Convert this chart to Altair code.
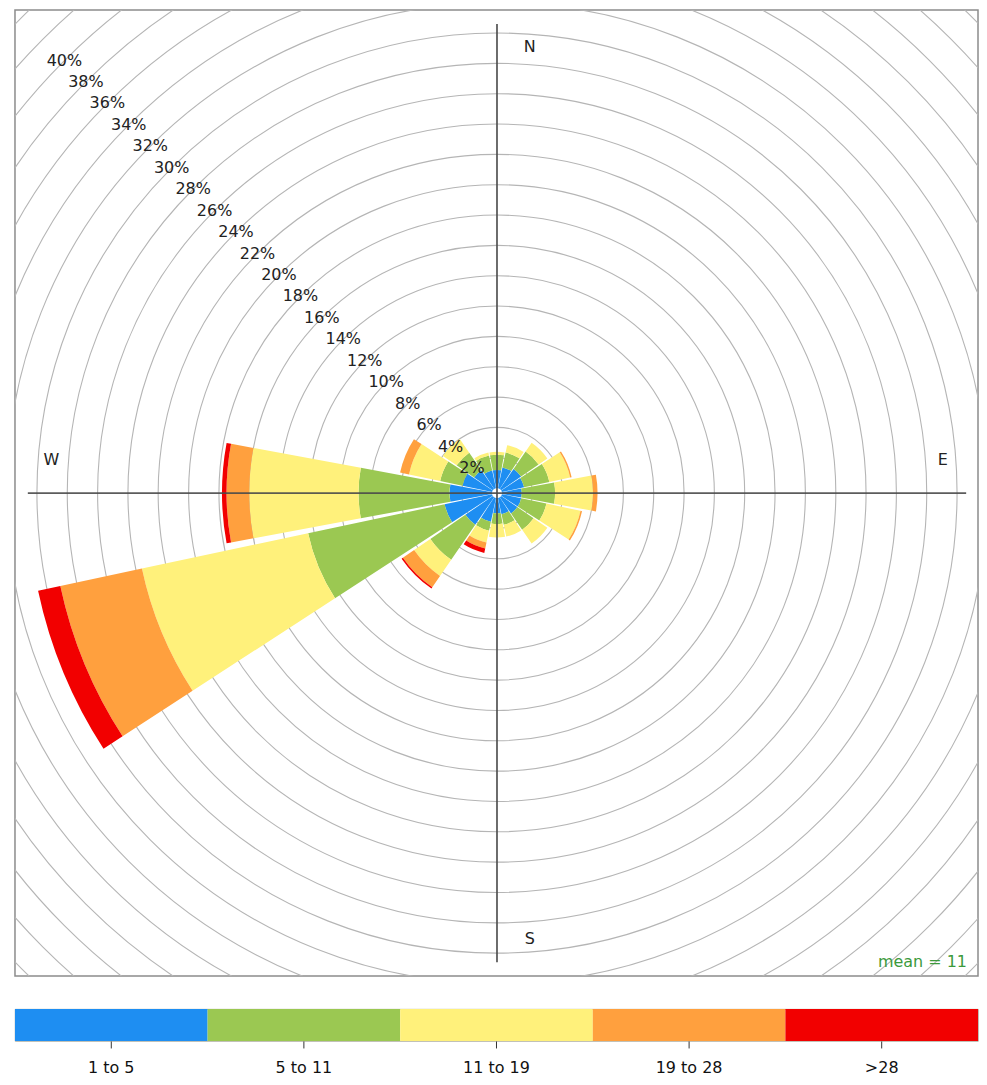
import altair as alt
import numpy as np
import pandas as pd

# ---------------- data ----------------
directions = ["N", "NNE", "NE", "ENE", "E", "ESE", "SE", "SSE",
              "S", "SSW", "SW", "WSW", "W", "WNW", "NW", "NNW"]
dir_angles = [0, 22.5, 45, 67.5, 90, 112.5, 135, 157.5,
              180, 202.5, 225, 247.5, 270, 292.5, 315, 337.5]
speed_bins = ["1 to 5", "5 to 11", "11 to 19", "19 to 28", ">28"]
bin_colors = ["#1e8ef2", "#9bc852", "#fff17b", "#ffa03e", "#f20000"]

# percentage of time in each speed band per direction
pct_1_5 = [1.2, 1.4, 1.6, 1.5, 1.3, 1.3, 1.3, 1.1, 1.0, 1.6, 2.2, 3.2, 2.8, 2.0, 1.5, 1.2]
pct_5_11 = [1.0, 1.0, 1.4, 1.7, 2.2, 1.7, 1.3, 0.7, 0.7, 0.6, 2.8, 9.2, 6.0, 1.5, 1.4, 1.0]
pct_11_19 = [0.2, 0.5, 0.7, 1.4, 2.5, 2.3, 1.1, 0.8, 0.9, 0.8, 1.3, 11.2, 7.2, 2.1, 1.1, 0.2]
pct_19_28 = [0.0, 0.0, 0.0, 0.1, 0.3, 0.1, 0.0, 0.0, 0.0, 0.4, 0.9, 5.5, 1.5, 0.6, 0.0, 0.0]
pct_gt28 = [0.0, 0.0, 0.0, 0.0, 0.0, 0.0, 0.0, 0.0, 0.0, 0.3, 0.1, 1.5, 0.3, 0.0, 0.0, 0.0]
mean_speed = 11

grid_pcts = list(range(2, 46, 2))
label_pcts = list(range(2, 42, 2))

# ---------------- layout constants ----------------
W, H = 965, 968            # plot panel size (px)
CX, CY = 483, 484          # rose centre inside the panel (px)
K = 15.2                   # px per percent
OFF = 0.33                 # centre hole (percent units)
HALF = 10.5                # half width of wedge (deg)
FONT = "DejaVu Sans"

xscale = alt.Scale(domain=[-CX / K, (W - CX) / K], range=[0, W], nice=False, zero=False)
yscale = alt.Scale(domain=[-(H - CY) / K, CY / K], range=[H, 0], nice=False, zero=False)
rscale = alt.Scale(type="linear", domain=[0, 50], range=[0, 50 * K], zero=True, nice=False)
tscale = alt.Scale(domain=[0, 360], range=[0, 2 * np.pi], nice=False, zero=False)

# ---------------- tables ----------------
bands = [pct_1_5, pct_5_11, pct_11_19, pct_19_28, pct_gt28]
rows = []
for i, (d, a) in enumerate(zip(directions, dir_angles)):
    cum = 0.0
    for b, name in enumerate(speed_bins):
        v = bands[b][i]
        if v > 0:
            rows.append(dict(dir=d, bin=name, t0=a - HALF, t1=a + HALF,
                             r0=cum + OFF, r1=cum + v + OFF))
        cum += v
wedges = pd.DataFrame(rows)
totals = [sum(b[i] for b in bands) for i in range(len(directions))]
mymax = max(totals)
R = mymax + OFF

grid = pd.DataFrame(dict(r=[p + OFF for p in grid_pcts], t0=0, t1=360))
labels = pd.DataFrame(dict(
    txt=[f"{p}%" for p in label_pcts],
    x=[-(p + OFF) * np.sin(np.pi / 4) for p in label_pcts],
    y=[(p + OFF) * np.cos(np.pi / 4) for p in label_pcts],
))
cross = pd.DataFrame(dict(x=[-R, 0], x2=[R, 0], y=[0, -R], y2=[0, R]))
compass = pd.DataFrame(dict(
    txt=["N", "E", "S", "W"],
    x=[0.07 * R, 0.95 * R, 0.07 * R, -0.95 * R],
    y=[0.95 * R, 0.07 * R, -0.95 * R, 0.07 * R],
))
meanlab = pd.DataFrame(dict(txt=[f"mean = {mean_speed}"]))

cx = alt.XDatum(0, scale=xscale, axis=None)
cy = alt.YDatum(0, scale=yscale, axis=None)

rings = alt.Chart(grid).mark_arc(filled=False, stroke="#b5b5b5", strokeWidth=1.1, clip=True).encode(
    x=cx, y=cy,
    theta=alt.Theta("t0:Q", scale=tscale, stack=None),
    theta2="t1:Q",
    radius=alt.Radius("r:Q", scale=rscale),
)

wedge_layer = alt.Chart(wedges).mark_arc(strokeWidth=0, clip=True).encode(
    x=cx, y=cy,
    theta=alt.Theta("t0:Q", scale=tscale, stack=None),
    theta2="t1:Q",
    radius=alt.Radius("r1:Q", scale=rscale),
    radius2="r0:Q",
    color=alt.Color("bin:N", scale=alt.Scale(domain=speed_bins, range=bin_colors), legend=None),
)

cross_layer = alt.Chart(cross).mark_rule(color="#4a4a4a", strokeWidth=1.8, opacity=0.9).encode(
    x=alt.X("x:Q", scale=xscale, axis=None), x2="x2:Q",
    y=alt.Y("y:Q", scale=yscale, axis=None), y2="y2:Q",
)

pct_text = alt.Chart(labels).mark_text(font=FONT, fontSize=16, color="#222222",
                                       align="center", baseline="middle").encode(
    x=alt.X("x:Q", scale=xscale, axis=None),
    y=alt.Y("y:Q", scale=yscale, axis=None),
    text="txt:N",
)

compass_text = alt.Chart(compass).mark_text(font=FONT, fontSize=16, color="#222222",
                                            align="center", baseline="middle").encode(
    x=alt.X("x:Q", scale=xscale, axis=None),
    y=alt.Y("y:Q", scale=yscale, axis=None),
    text="txt:N",
)

mean_text = alt.Chart(meanlab).mark_text(font=FONT, fontSize=16, color="#3c9a3c",
                                         align="right", baseline="alphabetic").encode(
    x=alt.value(W - 11), y=alt.value(H - 9), text="txt:N",
)

rose = alt.layer(rings, wedge_layer, cross_layer, pct_text, compass_text, mean_text).properties(
    width=W, height=H,
    view=alt.ViewBackground(stroke="#8c8c8c", strokeWidth=1.5, fill="white"),
)

legend_df = pd.DataFrame(dict(bin=speed_bins))
legend = alt.Chart(legend_df).mark_rect().encode(
    x=alt.X("bin:N", sort=speed_bins,
            scale=alt.Scale(paddingInner=0, paddingOuter=0),
            axis=alt.Axis(title=None, domain=False, tickSize=7, tickColor="#333333",
                          labelPadding=12, labelFontSize=16, labelFont=FONT,
                          labelAngle=0, labelColor="#111111")),
    color=alt.Color("bin:N", scale=alt.Scale(domain=speed_bins, range=bin_colors), legend=None),
).properties(width=W, height=32,
             view=alt.ViewBackground(stroke="#9a9a8a", strokeWidth=0.8))

chart = alt.vconcat(
    rose, legend, spacing=31,
    padding={"left": 6, "top": 0, "right": 0, "bottom": 0},
).configure(font=FONT).resolve_scale(color="independent")

chart.save("out.html", embed_options={"renderer": "svg", "actions": False})
